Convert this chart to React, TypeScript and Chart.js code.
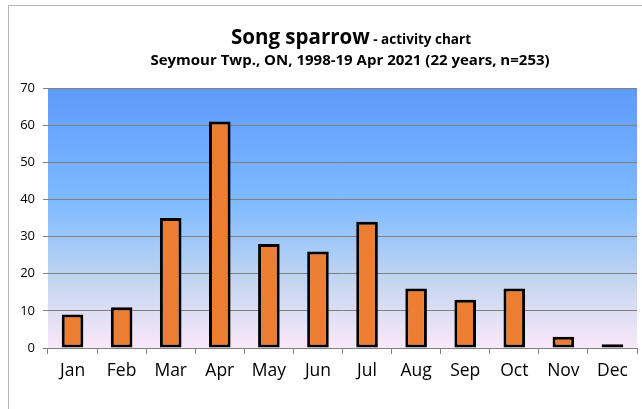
import React, { useEffect, useRef } from "react";
import { Chart, registerables } from "chart.js";

Chart.register(...registerables);

const categories = ["Jan", "Feb", "Mar", "Apr", "May", "Jun", "Jul", "Aug", "Sep", "Oct", "Nov", "Dec"];
const counts = [9, 11, 35, 61, 28, 26, 34, 16, 13, 16, 3, 1];
const titleMain = "Song sparrow";
const titleSuffix = " - activity chart";
const subtitle = "Seymour Twp., ON, 1998-19 Apr 2021 (22 years, n=253)";
const yMax = 70;
const yStep = 10;

const FONT = "'Open Sans', Lato, sans-serif";

const framePlugin = {
  id: "frameAndTitle",
  beforeDraw(chart: any) {
    const { ctx, chartArea } = chart;
    ctx.save();
    ctx.fillStyle = "#ffffff";
    ctx.fillRect(0, 0, chart.width, chart.height);
    ctx.strokeStyle = "#b4b4b4";
    ctx.lineWidth = 1;
    ctx.strokeRect(8.5, 5.5, chart.width + 20, chart.height + 20);
    const g = ctx.createLinearGradient(0, chartArea.top, 0, chartArea.bottom);
    g.addColorStop(0, "rgb(94,154,250)");
    g.addColorStop(0.45, "rgb(128,188,255)");
    g.addColorStop(0.75, "rgb(198,214,240)");
    g.addColorStop(1, "rgb(250,232,248)");
    ctx.fillStyle = g;
    ctx.fillRect(chartArea.left, chartArea.top, chartArea.right - chartArea.left, chartArea.bottom - chartArea.top);
    ctx.restore();
  },
  afterDraw(chart: any) {
    const { ctx } = chart;
    ctx.save();
    ctx.fillStyle = "#000000";
    ctx.textBaseline = "alphabetic";
    const cx = 351;
    const f1 = `bold 20.5px ${FONT}`;
    const f2 = `bold 13.5px ${FONT}`;
    ctx.font = f1;
    const w1 = ctx.measureText(titleMain).width;
    ctx.font = f2;
    const w2 = ctx.measureText(titleSuffix).width;
    const start = cx - (w1 + w2) / 2;
    ctx.textAlign = "left";
    ctx.font = f1;
    ctx.fillText(titleMain, start, 44);
    ctx.font = f2;
    ctx.fillText(titleSuffix, start + w1, 44);
    ctx.textAlign = "center";
    ctx.font = `bold 15px ${FONT}`;
    ctx.fillText(subtitle, 350, 65);
    ctx.restore();
  },
};

export default function App() {
  const ref = useRef<HTMLCanvasElement>(null);
  useEffect(() => {
    if (!ref.current) return;
    const chart = new Chart(ref.current, {
      type: "bar",
      data: {
        labels: categories,
        datasets: [
          {
            data: counts,
            backgroundColor: "#ED7D31",
            borderColor: "#000000",
            borderWidth: 3,
            borderSkipped: false,
            barPercentage: 0.44,
            categoryPercentage: 1,
          },
        ],
      },
      options: {
        animation: false,
        responsive: false,
        maintainAspectRatio: false,
        layout: { padding: { top: 88, right: 5, left: 0, bottom: 0 } },
        plugins: { legend: { display: false }, title: { display: false }, tooltip: { enabled: false } },
        scales: {
          x: {
            offset: true,
            grid: { display: true, drawOnChartArea: false, offset: true, color: "#808080", tickLength: 6 },
            border: { display: true, color: "#808080" },
            ticks: { color: "#000", font: { family: FONT, size: 17.5 }, padding: 7 },
            afterFit(scale: any) {
              scale.height = 61;
            },
          },
          y: {
            min: 0,
            max: yMax,
            ticks: { stepSize: yStep, color: "#000", font: { family: FONT, size: 13 }, padding: 8 },
            grid: { color: "#808080", lineWidth: 1, tickLength: 5 },
            border: { display: false },
            afterFit(scale: any) {
              scale.width = 48;
            },
          },
        },
      },
      plugins: [framePlugin],
    });
    return () => chart.destroy();
  }, []);
  return (
    <div style={{ position: "absolute", left: 0, top: 0, width: 642, height: 409 }}>
      <canvas ref={ref} width={642} height={409} style={{ display: "block" }} />
    </div>
  );
}
